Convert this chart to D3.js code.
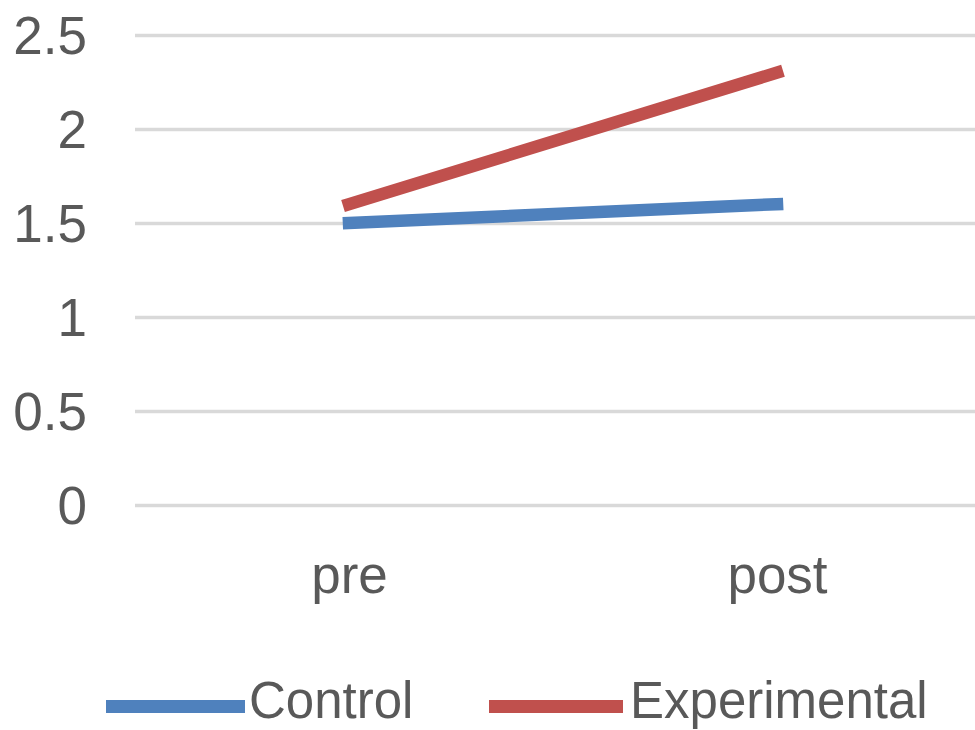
<!DOCTYPE html>
<html>
<head>
<meta charset="utf-8">
<script src="https://cdn.jsdelivr.net/npm/d3@7"></script>
<style>
  html, body { margin: 0; padding: 0; background: #ffffff; }
  svg { display: block; }
  text { font-family: "Liberation Sans", Arial, sans-serif; fill: #595959; }
</style>
</head>
<body>
<svg id="chart" width="975" height="730"></svg>
<script>
// Pre/post scores for the two groups
const categories = ["pre", "post"];
const controlValues = [1.5, 1.6];
const experimentalValues = [1.6, 2.3];
const yTicks = [0, 0.5, 1, 1.5, 2, 2.5];
const seriesNames = ["Control", "Experimental"];
const seriesColors = ["#4f81bd", "#c0504d"];

const series = [
  { name: seriesNames[0], values: controlValues, color: seriesColors[0] },
  { name: seriesNames[1], values: experimentalValues, color: seriesColors[1] }
];

const svg = d3.select("#chart");
const plotLeft = 135, plotRight = 991, plotTop = 35, plotBottom = 505;

const x = d3.scalePoint()
  .domain(categories)
  .range([plotLeft, plotRight])
  .padding(0.5);

const y = d3.scaleLinear()
  .domain([0, 2.5])
  .range([plotBottom, plotTop]);

// Horizontal gridlines with value labels on the left
const yAxis = svg.append("g")
  .attr("transform", `translate(${plotLeft},0)`)
  .call(d3.axisLeft(y).tickValues(yTicks).tickSize(-(plotRight - plotLeft)).tickPadding(48).tickFormat(d3.format("~g")));
yAxis.select(".domain").remove();
yAxis.selectAll(".tick line").attr("stroke", "#d9d9d9").attr("stroke-width", 3.5);
yAxis.selectAll(".tick text")
  .attr("font-size", 53)
  .attr("fill", "#595959")
  .attr("font-family", "Liberation Sans, Arial, sans-serif")
  .attr("dy", "0.34em");

// Category labels below the plot
const xAxis = svg.append("g")
  .attr("transform", `translate(0,${plotBottom})`)
  .call(d3.axisBottom(x).tickSize(0).tickPadding(0));
xAxis.select(".domain").remove();
xAxis.selectAll(".tick text")
  .attr("font-size", 53)
  .attr("fill", "#595959")
  .attr("font-family", "Liberation Sans, Arial, sans-serif")
  .attr("dy", null)
  .attr("y", 88);

// Series lines
const line = d3.line()
  .x((d, i) => x(categories[i]))
  .y(d => y(d));

svg.append("g").selectAll("path")
  .data(series)
  .join("path")
  .attr("d", d => line(d.values))
  .attr("fill", "none")
  .attr("stroke", d => d.color)
  .attr("stroke-width", 12.5)
  .attr("stroke-linecap", "square");

// Legend
const legendItems = [
  { s: series[0], x0: 106, x1: 245, tx: 249 },
  { s: series[1], x0: 489, x1: 623, tx: 630 }
];
const legend = svg.append("g");
legendItems.forEach(it => {
  legend.append("line")
    .attr("x1", it.x0).attr("x2", it.x1)
    .attr("y1", 706.5).attr("y2", 706.5)
    .attr("stroke", it.s.color)
    .attr("stroke-width", 13);
  legend.append("text")
    .attr("x", it.tx)
    .attr("y", 718)
    .attr("font-size", 51)
    .text(it.s.name);
});
</script>
</body>
</html>
